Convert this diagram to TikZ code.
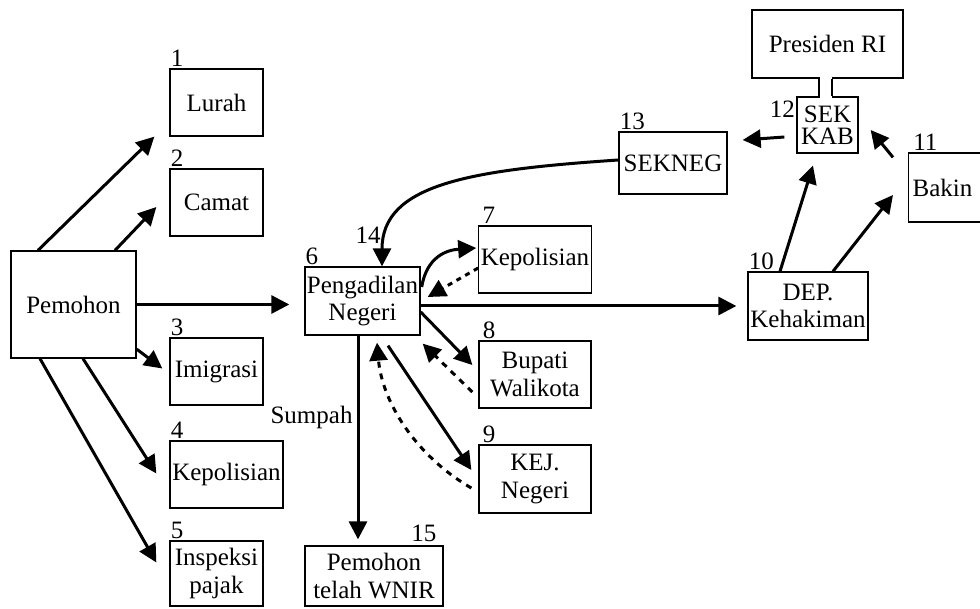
\documentclass[tikz,border=0pt]{standalone}
\usepackage{fontspec}
\setmainfont{Liberation Serif}
\usetikzlibrary{calc,arrows.meta}
\tikzset{
    block/.style = {draw, rectangle, line width=0.65pt, inner sep=1pt,
        align=center, font=\fontsize{12.5}{13.8}\selectfont},
    num/.style = {inner sep=0.5pt, font=\fontsize{12.5}{13.8}\selectfont},
    arrow/.style = {draw, ->, line width=1.5pt},
    back/.style = {draw, ->, line width=1.5pt, dash pattern=on 3pt off 3pt}
}

\begin{document}
\begin{tikzpicture}[x=0.5pt, y=-0.5pt, >={Triangle[length=9pt,width=9pt]}]
    \useasboundingbox (0,0) rectangle (980,609);
    \node [block, minimum width=62.5pt, minimum height=53.5pt] (pem) at (73.5,304.5) {Pemohon};
    \node [block, minimum width=46.5pt, minimum height=33.5pt, label={[num,anchor=south west]north west:1}] (lurah) at (216.5,102.5) {Lurah};
    \node [block, minimum width=46.5pt, minimum height=33.5pt, label={[num,anchor=south west]north west:2}] (camat) at (216.5,202.5) {Camat};
    \node [block, minimum width=46.5pt, minimum height=33.5pt, label={[num,anchor=south west]north west:3}] (imig) at (216.5,371.5) {Imigrasi};
    \node [block, minimum width=56.5pt, minimum height=33.5pt, label={[num,anchor=south west]north west:4}] (polisi) at (226.5,474.5) {Kepolisian};
    \node [block, minimum width=46.5pt, minimum height=32.5pt, label={[num,anchor=south west]north west:5}] (pajak) at (216.5,573.5) {Inspeksi\\pajak};
    \node [block, minimum width=57.5pt, minimum height=34pt, label={[num,anchor=south west]north west:6}] (pn) at (362.5,301) {Pengadilan\\Negeri};
    \node [num] (n14) at (368,235) {14};
    \node [block, minimum width=56pt, minimum height=33.5pt, label={[num,anchor=south west,xshift=1.5pt]north west:7}] (polisi2) at (535,259.5) {Kepolisian};
    \node [block, minimum width=56pt, minimum height=33.5pt, label={[num,anchor=south west,xshift=1.5pt]north west:8}] (bupati) at (535,374.5) {Bupati\\Walikota};
    \node [block, minimum width=56pt, minimum height=34pt, label={[num,anchor=south west,xshift=1.5pt]north west:9}] (kej) at (535,479) {KEJ.\\Negeri};
    \node [block, minimum width=69pt, minimum height=30pt, label={[num,anchor=south east,xshift=-3pt,yshift=1pt]north east:15}] (wnir) at (374,576) {Pemohon\\telah WNIR};
    \node [block, minimum width=60pt, minimum height=34pt, label={[num,anchor=south west]north west:10}] (dep) at (808,306) {DEP.\\Kehakiman};
    \node [block, minimum width=54pt, minimum height=31pt, label={[num,anchor=south west]north west:13}] (sekneg) at (673,163) {SEKNEG};
    \node [block, minimum width=75.5pt, minimum height=34pt] (presiden) at (827.5,44) {Presiden RI};
    \node [block, minimum width=30.5pt, minimum height=28pt, font=\fontsize{12.5}{11}\selectfont, label={[num,anchor=north east,yshift=-1.5pt]north west:12}] (sekkab) at (827.5,125) {SEK\\KAB};
    \node [block, anchor=west, inner xsep=2pt, text width=45pt, align=left, minimum height=34.5pt, label={[num,anchor=south west,xshift=2pt]north west:11}] (bakin) at (908,187.5) {Bakin};

    \fill [white] ($(presiden.south)+(-8,-3)$) rectangle ($(sekkab.north)+(4,3)$);
    \draw [line width=0.65pt] ($(presiden.south)+(-8.5,0)$) -- ($(sekkab.north)+(-8.5,0)$);
    \draw [line width=0.65pt] ($(presiden.south)+(4.5,0)$) -- ($(sekkab.north)+(4.5,0)$);

    \draw [arrow] ($(pem.north)+(-35.5,0)$) -- ($(lurah.south west)+(-15,0)$);
    \draw [arrow] ($(pem.north)+(41.5,0)$) -- ($(camat.west)+(-13,4.5)$);
    \draw [arrow] (pem.east) -- ($(pem.east -| pn.west)+(-15,0)$);
    \draw [arrow] ($(pem.south east)+(0,-9.5)$) -- ($(imig.west)+(-7,-3)$);
    \draw [arrow] ($(pem.south)+(9.5,0)$) -- ($(polisi.west)+(-13,-1)$);
    \draw [arrow] ($(pem.south)+(-33.5,0)$) -- ($(pajak.west)+(-13,-11)$);

    \draw [arrow] ($(sekneg.west)+(0,-3)$) .. controls +(-149,10) and +(0,-82) .. ($(pn.north)+(19.5,0)$);
    \draw [arrow] ($(pn.east)+(1,-14)$) .. controls +(5,-30) and +(-30,2) .. ($(polisi2.west)+(-2,-11.5)$);
    \draw [back, dash pattern=on 2.5pt off 2.5pt] ($(polisi2.west)+(0,8.5)$) -- ($(pn.east)+(7,-4)$);
    \draw [arrow] (pn.east |- dep.west) -- ($(dep.west)+(-11,0)$);
    \draw [arrow] ($(pn.east)+(0,11)$) -- ($(bupati.west)+(-6,-9.5)$);
    \draw [back] ($(bupati.west)+(-6,17.5)$) -- ($(pn.south east)+(2,8)$);
    \draw [arrow] ($(pn.south)+(25.5,10)$) -- ($(kej.west)+(-7,-9)$);
    \draw [back] ($(kej.west)+(-7,9)$) .. controls +(-57,-33) and +(5,58) .. ($(pn.south)+(14.5,7)$);
    \draw [arrow] ($(pn.south)+(-4.5,0)$) -- node [num, pos=0.4, left, xshift=-1.5pt] (sumpah) {Sumpah} ($(wnir.north)+(-16,-6)$);

    \draw [arrow] ($(sekkab.west)+(-12,12)$) -- ($(sekneg.east)+(15,-23)$);
    \draw [arrow] ($(bakin.north west)+(-15,5)$) -- ($(sekkab.east)+(12,5)$);
    \draw [arrow] ($(dep.north)+(-28,0)$) -- ($(sekkab.south)+(-14.5,12)$);
    \draw [arrow] ($(dep.north)+(25,0)$) -- ($(bakin.west)+(-15,7.5)$);
\end{tikzpicture}
\end{document}
